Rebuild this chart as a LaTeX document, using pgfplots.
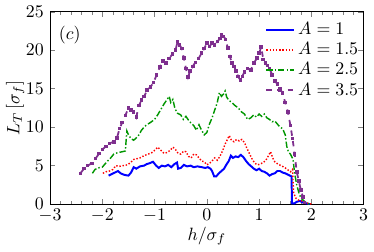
\documentclass[border=0pt]{standalone}
\usepackage{pgfplots}
\pgfplotsset{compat=1.18}
\definecolor{cblue}{RGB}{0,0,255}
\definecolor{cred}{RGB}{255,0,0}
\definecolor{cgreen}{RGB}{0,150,0}
\definecolor{cpurple}{RGB}{126,47,142}
\begin{document}
\begin{tikzpicture}
\begin{axis}[
  scale only axis, width=176pt, height=108pt,
  xmin=-3, xmax=3, ymin=0, ymax=25,
  xtick={-3,-2,...,3}, ytick={0,5,...,25},
  minor x tick num=4,
  tick align=inside,
  major tick length=3pt, minor tick length=2pt,
  xtick pos=both, ytick pos=both,
  xlabel={$h/\sigma_f$}, ylabel={$L_T\,[\sigma_f]$},
  xlabel style={yshift=4pt}, ylabel style={yshift=-6pt},
  xticklabel style={yshift=1pt},
  legend style={at={(0.995,0.965)}, anchor=north east, draw=none, fill=none, font=\normalsize, row sep=-1pt, inner sep=0pt},
  legend cell align=left,
  legend image code/.code={\draw[mark repeat=2,mark phase=2,#1] plot coordinates {(0cm,0cm) (0.27cm,0cm) (0.54cm,0cm)};},
]
\addplot[cblue, line width=1.1pt] coordinates {
(-1.88,3.7)(-1.82,3.9)(-1.76,4.1)(-1.7,4.3)(-1.65,4.0)(-1.58,3.8)(-1.5,3.7)(-1.45,4.1)(-1.4,4.8)(-1.35,4.6)(-1.28,4.9)(-1.2,5.0)(-1.15,5.2)(-1.1,5.3)(-1.03,5.5)(-0.97,5.0)(-0.92,4.7)(-0.86,5.0)(-0.8,4.9)(-0.74,5.1)(-0.68,4.8)(-0.62,5.2)(-0.57,5.4)(-0.55,4.6)(-0.5,4.7)(-0.44,5.1)(-0.38,4.9)(-0.31,5.0)(-0.25,4.8)(-0.18,4.9)(-0.1,4.8)(-0.03,4.7)(0.02,4.8)(0.07,4.6)(0.1,4.3)(0.14,3.6)(0.18,3.6)(0.23,4.0)(0.28,4.3)(0.33,4.6)(0.38,5.2)(0.42,5.6)(0.46,6.3)(0.5,6.0)(0.55,6.2)(0.6,6.1)(0.65,6.4)(0.7,6.1)(0.75,5.6)(0.8,5.2)(0.85,4.9)(0.9,4.6)(0.95,4.4)(1.0,4.6)(1.05,4.3)(1.1,4.2)(1.15,4.0)(1.2,3.7)(1.25,3.9)(1.3,4.0)(1.35,4.3)(1.4,4.3)(1.45,4.1)(1.5,4.0)(1.56,3.8)(1.62,3.6)(1.63,0.1)(1.68,0.1)(1.72,0.3)(1.78,0.4)(1.84,0.2)(1.9,0.1)(1.97,0)
};
\addlegendentry{$A=1$}
\addplot[cred, densely dotted, line width=0.8pt] coordinates {
(-1.99,4.0)(-1.93,4.2)(-1.86,4.3)(-1.8,4.5)(-1.74,5.0)(-1.68,4.9)(-1.6,5.0)(-1.52,5.1)(-1.46,5.4)(-1.4,5.8)(-1.34,5.9)(-1.28,6.0)(-1.2,6.3)(-1.12,6.5)(-1.05,6.7)(-0.98,7.1)(-0.94,7.4)(-0.88,7.0)(-0.82,6.6)(-0.76,6.7)(-0.7,7.0)(-0.65,7.4)(-0.6,7.1)(-0.55,6.6)(-0.5,6.5)(-0.44,6.9)(-0.4,6.8)(-0.35,6.2)(-0.3,6.0)(-0.25,6.5)(-0.2,6.4)(-0.15,6.0)(-0.1,5.6)(-0.05,5.5)(0.0,5.1)(0.05,5.3)(0.1,5.6)(0.15,6.0)(0.2,5.7)(0.25,6.2)(0.3,6.9)(0.35,7.8)(0.4,8.5)(0.43,8.9)(0.47,8.3)(0.52,8.1)(0.57,8.4)(0.62,8.2)(0.67,8.4)(0.72,8.0)(0.77,7.2)(0.82,6.5)(0.87,5.8)(0.92,5.3)(0.97,5.1)(1.02,5.2)(1.08,5.4)(1.13,5.7)(1.18,6.3)(1.22,6.8)(1.26,6.0)(1.3,5.5)(1.36,5.2)(1.42,5.0)(1.48,4.8)(1.54,4.5)(1.6,4.2)(1.64,4.5)(1.66,1.5)(1.7,0.8)(1.76,0.5)(1.82,0.4)(1.88,0.2)(1.95,0.1)(2.0,0)
};
\addlegendentry{$A=1.5$}
\addplot[cgreen, dash pattern=on 3.5pt off 1.2pt on 0.8pt off 1.2pt, line width=0.8pt] coordinates {
(-2.19,4.0)(-2.14,4.5)(-2.08,4.7)(-2.0,4.8)(-1.95,5.2)(-1.9,5.6)(-1.84,6.0)(-1.78,6.5)(-1.7,6.7)(-1.62,6.8)(-1.56,6.9)(-1.53,9.5)(-1.5,9.0)(-1.45,8.5)(-1.4,8.3)(-1.35,8.6)(-1.3,9.0)(-1.25,9.6)(-1.2,10.0)(-1.15,10.3)(-1.08,10.6)(-1.0,11.0)(-0.94,11.6)(-0.88,12.3)(-0.82,13.0)(-0.76,13.6)(-0.72,14.0)(-0.69,13.2)(-0.65,13.6)(-0.61,12.4)(-0.56,11.8)(-0.5,11.6)(-0.45,11.0)(-0.4,11.4)(-0.35,10.9)(-0.3,10.5)(-0.25,10.2)(-0.2,9.6)(-0.15,10.3)(-0.1,9.6)(-0.05,9.0)(0.0,9.3)(0.05,10.4)(0.1,11.2)(0.15,12.2)(0.2,13.2)(0.24,14.5)(0.28,14.0)(0.32,14.3)(0.35,14.7)(0.38,13.9)(0.42,13.5)(0.48,13.2)(0.54,12.8)(0.6,12.5)(0.66,12.0)(0.72,11.7)(0.78,11.0)(0.84,11.2)(0.9,11.6)(0.95,11.3)(1.0,11.7)(1.05,11.4)(1.1,11.7)(1.15,11.2)(1.2,11.0)(1.25,10.7)(1.3,10.8)(1.35,10.4)(1.4,10.0)(1.45,9.8)(1.5,9.0)(1.53,7.5)(1.56,6.8)(1.6,6.5)(1.65,5.8)(1.68,4.0)(1.72,2.5)(1.76,1.5)(1.8,0.8)(1.86,0.4)(1.92,0.1)(1.96,0)
};
\addlegendentry{$A=2.5$}
\addplot[cpurple, dashed, line width=1.0pt, mark=square*, mark size=0.5pt, mark options={solid}] coordinates {
(-2.42,4.0)(-2.35,4.6)(-2.28,5.0)(-2.2,5.3)(-2.13,5.9)(-2.06,6.6)(-2.0,7.1)(-1.93,7.5)(-1.86,7.9)(-1.78,8.1)(-1.72,8.6)(-1.67,9.8)(-1.62,10.6)(-1.56,11.5)(-1.5,12.5)(-1.45,12.2)(-1.4,12.0)(-1.35,11.3)(-1.3,12.8)(-1.25,13.5)(-1.2,14.0)(-1.14,14.8)(-1.08,15.2)(-1.02,15.8)(-0.96,16.8)(-0.9,17.8)(-0.84,18.6)(-0.78,18.3)(-0.72,18.9)(-0.66,19.5)(-0.6,20.0)(-0.56,21.1)(-0.52,20.7)(-0.48,20.2)(-0.44,19.0)(-0.4,17.6)(-0.36,16.5)(-0.32,17.3)(-0.27,17.9)(-0.22,18.4)(-0.16,18.9)(-0.1,19.6)(-0.05,20.2)(0.0,20.9)(0.05,20.5)(0.1,20.9)(0.15,20.7)(0.2,21.1)(0.25,21.5)(0.28,22.0)(0.32,21.8)(0.36,21.4)(0.4,20.3)(0.44,19.2)(0.48,18.3)(0.52,17.9)(0.56,17.3)(0.6,16.6)(0.64,16.1)(0.68,16.6)(0.72,17.2)(0.78,17.6)(0.84,17.4)(0.9,18.3)(0.96,19.0)(1.0,19.6)(1.04,20.4)(1.08,18.8)(1.12,18.3)(1.16,18.0)(1.2,17.6)(1.25,16.8)(1.3,16.0)(1.35,15.6)(1.4,15.0)(1.45,14.4)(1.5,13.2)(1.55,12.0)(1.6,10.2)(1.64,8.5)(1.68,6.5)(1.72,4.2)(1.76,3.0)(1.8,1.8)(1.84,0.9)(1.87,0.2)
};
\addlegendentry{$A=3.5$}
\node[anchor=north west] at (axis cs:-2.95,24.0) {$(c)$};
\end{axis}
\end{tikzpicture}
\end{document}
